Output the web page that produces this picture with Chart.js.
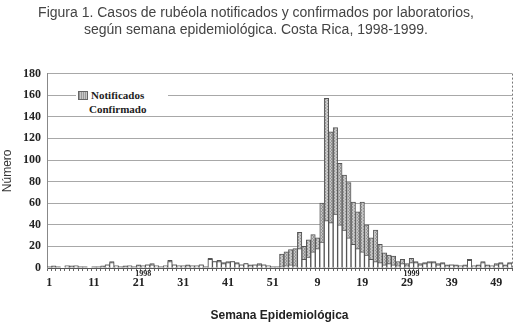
<!DOCTYPE html>
<html>
<head>
<meta charset="utf-8">
<script src="https://cdn.jsdelivr.net/npm/chart.js@4.4.1/dist/chart.umd.min.js"></script>
<style>
  html, body { margin: 0; padding: 0; background: #fff; }
  #wrap { position: relative; width: 521px; height: 328px; }
  #legend {
    position: absolute; left: 76px; top: 88px; width: 88px;
    background: #fff; font: bold 11px "Liberation Serif", serif; color: #222;
    line-height: 14px; padding: 0 2px;
  }
  #legend .sw {
    display: inline-block; width: 8px; height: 7px; margin-right: 3px;
    border: 1px solid #666; vertical-align: -1px;
    background: repeating-linear-gradient(90deg, #9a9a9a 0 1px, #c8c8c8 1px 2px);
  }
  #legend .row2 { padding-left: 11px; }
</style>
</head>
<body>
<div id="wrap">
  <canvas id="chart" width="521" height="328"></canvas>
  <div id="legend">
    <div><span class="sw"></span>Notificados</div>
    <div class="row2">Confirmado</div>
  </div>
</div>
<script>
// semanas epidemiológicas 1998 (1-52) y 1999 (1-52)
var weeks = [
  1,2,3,4,5,6,7,8,9,10,11,12,13,14,15,16,17,18,19,20,21,22,23,24,25,26,
  27,28,29,30,31,32,33,34,35,36,37,38,39,40,41,42,43,44,45,46,47,48,49,50,51,52,
  1,2,3,4,5,6,7,8,9,10,11,12,13,14,15,16,17,18,19,20,21,22,23,24,25,26,
  27,28,29,30,31,32,33,34,35,36,37,38,39,40,41,42,43,44,45,46,47,48,49,50,51,52
];

var notificados = [
  // 1998
  1,2,1,0,2,2,2,1,1,0,
  1,1,2,3,6,2,1,2,2,1,
  3,2,3,4,2,1,2,7,3,2,
  2,3,2,2,3,1,9,6,7,5,
  6,6,5,3,4,3,3,4,3,2,
  1,1,
  // 1999
  13,15,17,18,33,20,26,31,28,60,
  157,126,130,97,86,79,61,52,61,40,
  28,35,22,14,12,11,6,8,4,9,
  6,4,5,6,6,4,5,3,3,3,
  2,3,8,2,3,6,3,2,4,5,
  3,5
];

var confirmados = [
  // 1998
  1,1,1,0,2,1,2,1,1,0,
  1,1,1,3,5,2,1,1,2,1,
  2,2,3,3,2,1,2,6,3,2,
  2,2,2,2,3,1,8,6,6,4,
  5,6,4,3,4,2,3,3,3,2,
  1,1,
  // 1999
  1,2,3,2,18,8,10,15,18,24,
  44,42,50,40,35,28,22,18,15,12,
  8,6,5,3,4,3,2,4,2,5,
  5,3,4,5,5,3,4,2,3,2,
  2,2,7,2,2,5,2,2,3,4,
  2,4
];

var yearLabels = [{ index: 21, text: '1998' }, { index: 81, text: '1999' }];

// textura gris de las barras de notificados
function makePattern() {
  var c = document.createElement('canvas');
  c.width = 3; c.height = 3;
  var g = c.getContext('2d');
  g.fillStyle = '#c6c6c6';
  g.fillRect(0, 0, 3, 3);
  g.fillStyle = '#959595';
  g.fillRect(1, 0, 1, 1);
  g.fillRect(1, 2, 1, 1);
  g.fillRect(0, 1, 1, 1);
  return g.createPattern(c, 'repeat');
}

var extras = {
  id: 'extras',
  afterDraw: function (chart) {
    var ctx = chart.ctx;
    var area = chart.chartArea;
    var x = chart.scales.x;
    ctx.save();
    // borde derecho punteado
    ctx.strokeStyle = '#777';
    ctx.setLineDash([2, 2]);
    ctx.beginPath();
    ctx.moveTo(area.right + 0.5, area.top);
    ctx.lineTo(area.right + 0.5, area.bottom);
    ctx.stroke();
    ctx.setLineDash([]);
    // años bajo el eje
    ctx.fillStyle = '#222';
    ctx.font = 'bold 8px "Liberation Serif", serif';
    ctx.textAlign = 'center';
    ctx.textBaseline = 'top';
    yearLabels.forEach(function (y) {
      ctx.fillText(y.text, x.getPixelForValue(y.index), area.bottom + 2);
    });
    ctx.restore();
  }
};

var ctx = document.getElementById('chart').getContext('2d');
new Chart(ctx, {
  type: 'bar',
  data: {
    labels: weeks,
    datasets: [
      {
        label: 'Notificados',
        data: notificados,
        backgroundColor: makePattern(),
        borderColor: '#555',
        borderWidth: 1,
        barPercentage: 1,
        categoryPercentage: 1,
        order: 1
      },
      {
        label: 'Confirmado',
        data: confirmados,
        backgroundColor: '#ffffff',
        borderColor: '#555',
        borderWidth: 1,
        barPercentage: 1,
        categoryPercentage: 1,
        order: 0
      }
    ]
  },
  options: {
    responsive: false,
    animation: false,
    layout: { padding: { left: 0, right: 9, top: 0, bottom: 5 } },
    plugins: {
      legend: { display: false },
      tooltip: { enabled: false },
      title: {
        display: true,
        text: ['Figura 1. Casos de rubéola notificados y confirmados por laboratorios,',
               'según semana epidemiológica. Costa Rica, 1998-1999.'],
        color: '#444',
        font: { family: '"Liberation Sans", Arial, sans-serif', size: 14, weight: 'normal' },
        padding: { top: 5, bottom: 35 }
      }
    },
    scales: {
      x: {
        stacked: true,
        grid: { display: true, drawOnChartArea: false, tickLength: 3, color: '#666', offset: true },
        border: { color: '#555' },
        ticks: {
          autoSkip: false,
          maxRotation: 0,
          padding: 5,
          color: '#222',
          font: { family: '"Liberation Serif", serif', size: 12, weight: 'bold' },
          callback: function (val, i) { return i % 10 === 0 ? String(weeks[i]) : ''; }
        },
        title: {
          display: true,
          text: 'Semana Epidemiológica',
          color: '#222',
          font: { family: '"Liberation Sans", Arial, sans-serif', size: 12, weight: 'bold' },
          padding: { top: 4, bottom: 0 }
        },
        afterFit: function (s) { s.height = 55; }
      },
      y: {
        stacked: false,
        min: 0,
        max: 180,
        ticks: {
          stepSize: 20,
          padding: 6,
          color: '#222',
          font: { family: '"Liberation Serif", serif', size: 12, weight: 'bold' }
        },
        grid: { color: '#a8a8a8', tickLength: 0 },
        border: { color: '#888' },
        title: {
          display: true,
          text: 'Número',
          color: '#333',
          font: { family: '"Liberation Sans", Arial, sans-serif', size: 12 },
          padding: { top: 0, bottom: 0 }
        },
        afterFit: function (s) { s.width = 47; }
      }
    }
  },
  plugins: [extras]
});
</script>
</body>
</html>
